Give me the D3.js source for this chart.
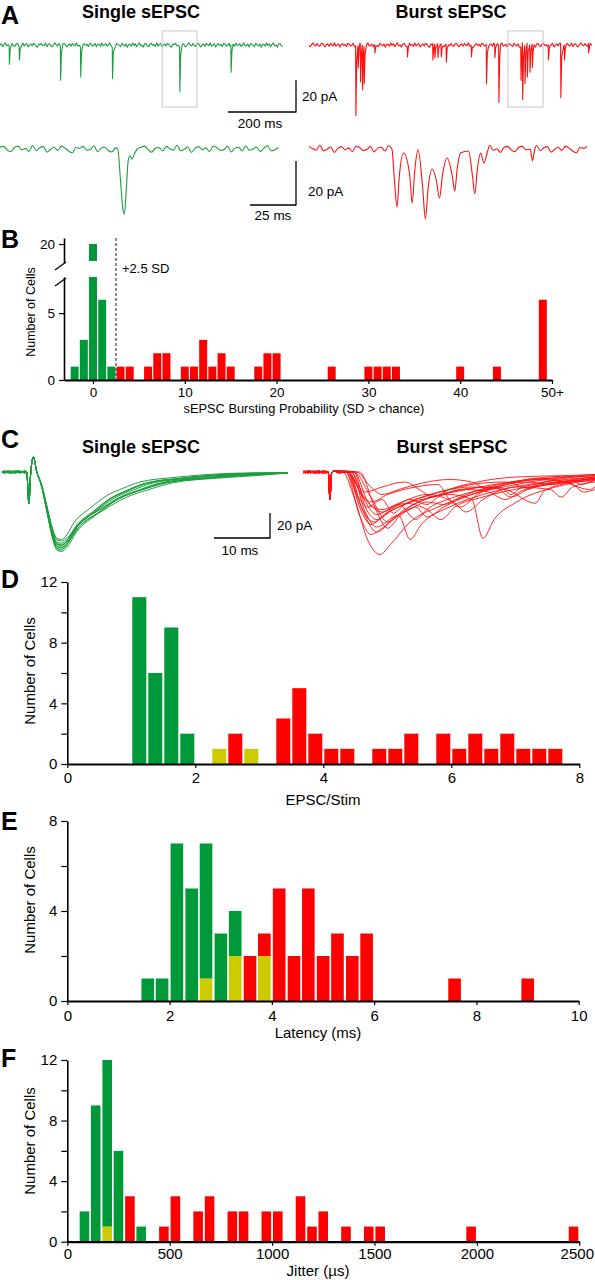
<!DOCTYPE html>
<html><head><meta charset="utf-8">
<script src="https://cdn.jsdelivr.net/npm/d3@7/dist/d3.min.js"></script>
<style>html,body{margin:0;padding:0;background:#fff;}svg{display:block;}</style>
</head><body>
<svg id="fig" width="595" height="1280" xmlns="http://www.w3.org/2000/svg"></svg>
<script>
// ====================== DATA ======================
// Panel A – recorded traces (time ms, current pA)
const baselineNoise = [0.4,-0.6,1.1,-0.2,0.7,-1.0,0.3,1.3,-0.5,0.1,-1.2,0.6,0.9,-0.4,-0.9,0.5,1.0,-0.3,0.2,-0.8,
  1.2,-0.6,0.4,0.8,-1.1,-0.1,0.6,-0.5,1.0,0.3,-0.7,-1.3,0.5,0.2,0.9,-0.4,-0.2,1.1,-0.9,0.3,
  0.7,-0.6,-1.0,0.4,1.2,0.0,-0.5,0.8,-0.3,-0.8,0.6,1.0,-0.2,-1.1,0.3,0.5,-0.7,0.9,0.1,-0.4,
  1.3,-0.6,-0.1,0.7,-1.2,0.2,0.8,-0.3,0.4,-0.9,1.0,0.5,-0.5,-0.2,0.9,-1.0,0.3,0.6,-0.7,1.1,
  -0.4,0.0,0.7,-0.8,0.2,1.2,-0.6,-0.3,0.5,-1.1,0.8,0.4,-0.2,-0.9,1.0,0.1,-0.5,0.6,-1.3,0.3];
const aSingleEvents = [[28,12],[58,9.4],[181,22],[241,20],[336,21],[537,29],[690,17]];
const aBurstEvents = [[140,44],[147,14],[154,23],[160,28],[165,24],[197,5],[294,7.5],[370,9.4],[376,8],[385,8],
  [395,7.5],[410,10.6],[485,7.5],[530,24],[555,8],[567,36],[633,22],[638,34],[645,24],[652,20],[660,17],[667,14],
  [715,9.4],[752,33],[763,9.4],[835,5]];
const aSingleZoom = [[65.2,0],[66.7,-14],[67.9,-26],[68.9,-29],[69.9,-18],[71,-5],[72,-3],[73,-4.5],[74.5,-2],[76,0]];
const aBurstZoom = [[45.9,0],[47.3,-14],[48.7,-25.8],[50,-12],[52.4,-1.8],[55.8,-12],[57.1,-24],[58.6,-9],[60.4,-0.4],
  [63,-18],[64.4,-31],[66,-17],[68.2,-8.9],[70.5,-14],[72.2,-21.8],[74,-11],[76.5,-4],[79.3,-12],[80.7,-18.7],[82,-9],
  [83.9,-1.8],[88.3,-0.9],[90.5,-12],[91.8,-20],[93.2,-9],[95,-1.8],[96.8,-6.2],[98.9,-0.9]];
const aBurstZoomSmall = [[122.5,0],[123.7,-5.3],[125,0]];

// Panel B – sEPSC bursting probability histogram
const bBinCenter = [-2,-1,0,1,2,3,4,6,7,8,10,11,12,13,14,15,18,19,20,26,30,31,32,33,40,44,49];
const bCount     = [ 1, 3,20,6,1,1,1,1,2,2, 1, 1, 3, 1, 2, 1, 1, 2, 2, 1, 1, 1, 1, 1, 1, 1, 6];
const bXTicks = [0,10,20,30,40,50];
const bXTickLabels = ["0","10","20","30","40","50+"];
const bThreshold = 2.5;

// Panel C – overlaid evoked sEPSCs (time ms, current pA)
const cSingleTemplate = [[4.4,0],[4.8,-25],[5.1,-2],[5.6,12],[6.2,0],[7,-10],[8,-30],[9,-50],[9.8,-59],[10.6,-60],
  [11.5,-57],[13.2,-45],[16.6,-32],[20,-21],[23.4,-14.4],[26.8,-9],[33.6,-5],[40.4,-2.4],[51,-0.8]];
const cSingleAmp = [1.0,0.95,1.04,0.92,0.98,1.06,0.9,1.01,0.97,1.03];
const cSingleDecay = [1.0,1.12,0.9,1.18,0.95,1.05,0.86,1.1,1.22,0.93];
const cBurstTraces = [
  [[7,0],[9,-20],[11.5,-55],[13.6,-66],[15.5,-58],[19,-40],[24,-28],[30,-18],[38,-10],[45,-5],[52,-3]],
  [[7.5,0],[10,-35],[12,-50],[14,-45],[17,-35],[19,-54],[21,-42],[26,-28],[32,-18],[40,-10],[52,-4]],
  [[8,0],[10,-25],[12.5,-40],[15,-32],[18,-25],[22,-30],[24.5,-38],[27,-28],[32,-20],[40,-12],[52,-5]],
  [[8,0],[10.5,-30],[13,-48],[16,-38],[20,-25],[26,-18],[30,-22],[32,-53],[34,-38],[38,-24],[45,-12],[52,-6]],
  [[9,0],[11,-28],[13,-38],[16,-30],[20,-22],[25,-15],[30,-12],[36,-14],[41.3,-25],[43,-15],[48,-8],[52,-5]],
  [[8.5,0],[11,-22],[14,-30],[17,-25],[22,-18],[27,-25],[29,-32],[32,-22],[38,-12],[44,-14],[46,-20],[48,-12],[52,-8]],
  [[7.5,0],[9.5,-18],[11.5,-28],[14,-22],[16,-33],[18,-26],[23,-18],[30,-10],[36,-8],[40,-13],[43,-8],[52,-3]],
  [[9,0],[12,-20],[15,-40],[18,-30],[23,-20],[28,-15],[34,-10],[42,-6],[48,-10],[50,-16],[52,-14]],
  [[8,0],[10,-15],[12,-24],[15,-18],[20,-12],[24,-10],[26,-22],[28,-28],[31,-18],[36,-10],[44,-5],[52,-2]],
  [[10,0],[12.5,-26],[15,-45],[17,-36],[20,-28],[22,-36],[25,-28],[30,-18],[35,-12],[37,-18],[39,-12],[45,-8],[52,-4]],
  [[7.5,0],[9.5,-10],[11,-16],[14,-12],[18,-8],[21,-15],[23,-20],[26,-14],[31,-8],[38,-4],[47,-3],[49.5,-10],[52,-6]],
  [[8.5,0],[11,-32],[13,-44],[16,-36],[19,-30],[22,-24],[25,-26],[28,-20],[33,-12],[40,-6],[52,-2]],
  [[9.5,0],[12,-12],[14,-18],[17,-14],[21,-9],[26,-6],[30,-8],[33,-14],[36,-10],[42,-5],[46,-7],[51,-14],[52,-12]],
  [[8,0],[10.5,-20],[13,-34],[16,-28],[19,-22],[22,-26],[24,-20],[28,-14],[34,-12],[37,-20],[40,-14],[46,-8],[52,-6]],
  [[9,0],[11.5,-24],[14,-32],[17,-26],[20,-38],[22,-30],[27,-20],[33,-13],[40,-8],[44,-10],[47,-8],[52,-5]],
  [[7.8,0],[10,-28],[12,-42],[14.5,-34],[18,-26],[23,-20],[29,-14],[33,-16],[36,-22],[39,-15],[46,-9],[52,-7]]
];
const cBurstArtifact = [[4.4,0],[4.7,-22],[5.0,-1],[5.5,1]];

// Panel D – EPSC/Stim histogram (bin width 0.25)
const dBinStart = [1.0,1.25,1.5,1.75,2.25,2.5,2.75,3.25,3.5,3.75,4.0,4.25,4.75,5.0,5.25,5.75,6.0,6.25,6.5,6.75,7.0,7.25,7.5];
const dGreen  = [11,6,9,2,0,0,0,0,0,0,0,0,0,0,0,0,0,0,0,0,0,0,0];
const dYellow = [0,0,0,0,1,0,1,0,0,0,0,0,0,0,0,0,0,0,0,0,0,0,0];
const dRed    = [0,0,0,0,0,2,0,3,5,2,1,1,1,1,2,2,1,2,1,2,1,1,1];
const dBinWidth = 0.25;

// Panel E – latency histogram (ms)
const eBinStart = [1.43,1.71,2.0,2.29,2.57,2.86,3.14,3.43,3.71,4.0,4.29,4.57,4.86,5.14,5.43,5.71,7.43,8.86];
const eYellow = [0,0,0,0,1,0,2,0,2,0,0,0,0,0,0,0,0,0];
const eGreen  = [1,1,7,5,6,3,2,0,0,0,0,0,0,0,0,0,0,0];
const eRed    = [0,0,0,0,0,0,0,2,1,5,2,5,2,3,2,3,1,1];
const eBinWidth = 0.286;

// Panel F – jitter histogram (µs)
const fBinStart = [56,111,167,222,278,333,444,500,611,667,778,833,944,1000,1111,1167,1222,1333,1444,1500,1944,2444];
const fYellow = [0,0,1,0,0,0,0,0,0,0,0,0,0,0,0,0,0,0,0,0,0,0];
const fGreen  = [2,9,11,6,0,1,0,0,0,0,0,0,0,0,0,0,0,0,0,0,0,0];
const fRed    = [0,0,0,0,3,0,1,3,2,3,2,2,2,2,3,1,2,1,1,1,1,1];
const fBinWidth = 55.6;

// ====================== STYLE ======================
const FONT = '"Liberation Sans", Arial, Helvetica, sans-serif';
const C_GREEN = '#00993a', C_RED = '#ff0000', C_YELLOW = '#cccc00';
const T_GREEN = '#1c9e3e', T_RED = '#ff1010';
const fmt = d3.format('d');

const svg = d3.select('#fig');

function txt(x, y, s, size, opts = {}) {
  const t = svg.append('text').attr('x', x).attr('y', y).text(s)
    .attr('font-family', FONT).attr('font-size', size).attr('fill', '#000')
    .attr('text-anchor', opts.anchor || 'start')
    .attr('font-weight', opts.bold ? 'bold' : 'normal');
  if (opts.rotate) t.attr('transform', `rotate(-90,${x},${y})`);
  return t;
}
function line(x1, y1, x2, y2, w = 1.2, col = '#000') {
  svg.append('line').attr('x1', x1).attr('y1', y1).attr('x2', x2).attr('y2', y2)
    .attr('stroke', col).attr('stroke-width', w);
}
function styleAxis(g, size, w) {
  g.attr('font-family', FONT).attr('font-size', size);
  g.select('.domain').attr('stroke', '#000').attr('stroke-width', w);
  g.selectAll('.tick line').attr('stroke', '#000').attr('stroke-width', 1.2);
  g.selectAll('.tick text').attr('fill', '#000');
}
function histogram(x, y, starts, width, layers, gap) {
  const g = svg.append('g');
  starts.forEach((s, i) => {
    let acc = 0;
    layers.forEach(L => {
      const v = L.vals[i]; if (!v) return;
      g.append('rect').attr('x', x(s) + gap / 2).attr('width', x(s + width) - x(s) - gap)
        .attr('y', y(acc + v)).attr('height', y(acc) - y(acc + v)).attr('fill', L.color);
      acc += v;
    });
  });
}

// Panel letters
[['A', 24], ['B', 248], ['C', 448], ['D', 588], ['E', 830], ['F', 1067]].forEach(([l, y]) => txt(1, y, l, 25, {bold: true}));

// ====================== PANEL A ======================
txt(141, 18, 'Single sEPSC', 18, {bold: true, anchor: 'middle'});
txt(451, 18, 'Burst sEPSC', 18, {bold: true, anchor: 'middle'});

const xAs = d3.scaleLinear([0, 845], [0, 283]);
const xAb = d3.scaleLinear([0, 845], [309, 592]);
const yAt = d3.scaleLinear([0, -20], [45, 77]);

function spikeTrace(events, tEnd, step, nScale, off) {
  const pts = [];
  const near = t => events.some(([te]) => t > te - 1.5 && t < te + 5);
  for (let i = 0; i * step <= tEnd; i++) {
    const t = i * step;
    if (!near(t)) pts.push([t, baselineNoise[(i + off) % baselineNoise.length] * nScale]);
  }
  events.forEach(([te, a], k) => {
    const b = baselineNoise[(k * 7 + off) % baselineNoise.length] * nScale;
    pts.push([te - 0.8, b], [te, -a], [te + 2.5, -0.22 * a]);
  });
  return pts.sort((p, q) => p[0] - q[0]);
}
function mergeTrace(segments, tEnd, step, nScale, off) {
  const pts = [];
  for (let i = 0; i * step <= tEnd; i++) {
    const t = i * step;
    if (!segments.some(s => t >= s[0][0] - 0.8 && t <= s[s.length - 1][0] + 0.8))
      pts.push([t, baselineNoise[(i + off) % baselineNoise.length] * nScale]);
  }
  segments.forEach(s => pts.push(...s));
  return pts.sort((p, q) => p[0] - q[0]);
}
function drawTrace(pts, xs, ys, col, w, curve) {
  svg.append('path').attr('d', d3.line().x(d => xs(d[0])).y(d => ys(d[1])).curve(curve || d3.curveLinear)(pts))
    .attr('fill', 'none').attr('stroke', col).attr('stroke-width', w).attr('stroke-linejoin', 'round');
}
drawTrace(spikeTrace(aSingleEvents, 845, 4, 1.1, 3), xAs, yAt, T_GREEN, 1.1);
drawTrace(spikeTrace(aBurstEvents, 845, 4, 1.1, 41), xAb, yAt, T_RED, 1.1);

// highlight boxes
[[xAs, 484, 588], [xAb, 594, 699]].forEach(([xs, t0, t1]) => {
  svg.append('rect').attr('x', xs(t0)).attr('y', yAt(8.8)).attr('width', xs(t1) - xs(t0))
    .attr('height', yAt(-38.8) - yAt(8.8)).attr('fill', 'none').attr('stroke', '#c8c8c8').attr('stroke-width', 1);
});
// scale bars (200 ms, 20 pA)
line(228, 112, 296, 112, 1.3);
line(296, 80, 296, 112.6, 1.3);
txt(260, 128, '200 ms', 13.5, {anchor: 'middle'});
txt(302, 101, '20 pA', 13.5);

// zoomed traces
const xLs = d3.scaleLinear([0, 155], [0, 280]);
const xLb = d3.scaleLinear([0, 155], [309, 589]);
const yL = d3.scaleLinear([0, -20], [149, 194]);
drawTrace(mergeTrace([aSingleZoom], 155, 2, 1.3, 11), xLs, yL, T_GREEN, 1.1, d3.curveMonotoneX);
drawTrace(mergeTrace([aBurstZoom, aBurstZoomSmall], 155, 2, 1.3, 57), xLb, yL, T_RED, 1.1, d3.curveMonotoneX);
line(250, 205, 296, 205, 1.3);
line(296, 161, 296, 205.6, 1.3);
txt(273, 220, '25 ms', 13.5, {anchor: 'middle'});
txt(308, 196, '20 pA', 13.5);

// ====================== PANEL B ======================
const xB = d3.scaleLinear([-3.16, 50], [64, 552]);
const yBlow = d3.scaleLinear([0, 7.7], [380, 277]);
const yBhigh = d3.scaleLinear([18.58, 20.45], [263, 238]);
bBinCenter.forEach((c, i) => {
  const col = c < bThreshold ? C_GREEN : C_RED;
  const v = bCount[i];
  const x0 = xB(c - 0.5) + 0.6, w = xB(c + 0.5) - xB(c - 0.5) - 1.2;
  if (v <= 7.7) {
    svg.append('rect').attr('x', x0).attr('width', w).attr('y', yBlow(v)).attr('height', yBlow(0) - yBlow(v)).attr('fill', col);
  } else {
    svg.append('rect').attr('x', x0).attr('width', w).attr('y', yBlow(7.7)).attr('height', yBlow(0) - yBlow(7.7)).attr('fill', col);
    svg.append('rect').attr('x', x0).attr('width', w).attr('y', yBhigh(v)).attr('height', yBhigh(18.73) - yBhigh(v)).attr('fill', col);
  }
});
// threshold line
svg.append('line').attr('x1', xB(bThreshold)).attr('x2', xB(bThreshold)).attr('y1', 238).attr('y2', 380)
  .attr('stroke', '#333').attr('stroke-width', 1.1).attr('stroke-dasharray', '3,2');
txt(122, 273, '+2.5 SD', 13);
const gBx = svg.append('g').attr('transform', 'translate(0,380)')
  .call(d3.axisBottom(xB).tickValues(bXTicks).tickFormat((d, i) => bXTickLabels[i]).tickSize(4).tickSizeOuter(0).tickPadding(3));
styleAxis(gBx, 13.5, 2);
const gBy1 = svg.append('g').attr('transform', 'translate(64,0)')
  .call(d3.axisLeft(yBlow).tickValues([0, 5]).tickFormat(fmt).tickSize(5).tickSizeOuter(0).tickPadding(4));
styleAxis(gBy1, 13.5, 1.6);
const gBy2 = svg.append('g').attr('transform', 'translate(64,0)')
  .call(d3.axisLeft(yBhigh).tickValues([20]).tickFormat(fmt).tickSize(5).tickSizeOuter(0).tickPadding(4));
styleAxis(gBy2, 13.5, 1.6);
line(55, 270, 66, 262, 1.3);
line(55, 286, 66, 278, 1.3);
txt(35, 312, 'Number of Cells', 12.5, {anchor: 'middle', rotate: true});
txt(304, 413, 'sEPSC Bursting Probability (SD > chance)', 12.8, {anchor: 'middle'});

// ====================== PANEL C ======================
txt(141, 453, 'Single sEPSC', 18, {bold: true, anchor: 'middle'});
txt(452, 453, 'Burst sEPSC', 18, {bold: true, anchor: 'middle'});
const xCs = d3.scaleLinear([0, 51], [2, 288]);
const xCb = d3.scaleLinear([0, 52], [303.6, 595]);
const yC = d3.scaleLinear([0, -20], [472, 497]);
cSingleAmp.forEach((a, k) => {
  const s = cSingleDecay[k];
  const pts = [];
  for (let i = 0; i < 11; i++) pts.push([i * 0.4, baselineNoise[(i + k * 9) % baselineNoise.length] * 0.9]);
  let last = null;
  cSingleTemplate.forEach(([t, v]) => {
    if (t < 6.2) { pts.push([t, v]); return; }
    const tt = t <= 10.6 ? t : 10.6 + (t - 10.6) * s;
    if (tt <= 51) pts.push([tt, v * a]); else if (last === null) last = v * a;
  });
  if (pts[pts.length - 1][0] < 51) pts.push([51, last !== null ? last : -0.8]);
  drawTrace(pts, xCs, yC, T_GREEN, 1, d3.curveMonotoneX);
});
cBurstTraces.forEach((tr, k) => {
  const pts = [];
  for (let i = 0; i < 11; i++) pts.push([i * 0.4, baselineNoise[(i + k * 13 + 5) % baselineNoise.length] * 0.9]);
  pts.push(...cBurstArtifact);
  pts.push([6.2, baselineNoise[(k * 5) % baselineNoise.length] * 0.8]);
  pts.push(...tr);
  drawTrace(pts, xCb, yC, T_RED, 0.9, d3.curveMonotoneX);
});
line(214, 538, 270, 538, 1.3);
line(270, 513, 270, 538.6, 1.3);
txt(277, 530, '20 pA', 13.5);
txt(240, 555, '10 ms', 13.5, {anchor: 'middle'});

// ====================== PANEL D ======================
const xD = d3.scaleLinear([0, 8], [67.3, 579.3]);
const yD = d3.scaleLinear([0, 12], [764, 582]);
histogram(xD, yD, dBinStart, dBinWidth,
  [{vals: dYellow, color: C_YELLOW}, {vals: dGreen, color: C_GREEN}, {vals: dRed, color: C_RED}], 2);
const gDx = svg.append('g').attr('transform', 'translate(0,764)')
  .call(d3.axisBottom(xD).tickValues([0, 2, 4, 6, 8]).tickFormat(fmt).tickSize(4).tickSizeOuter(0).tickPadding(4));
styleAxis(gDx, 15, 2.2);
const gDy = svg.append('g').attr('transform', 'translate(67.3,0)')
  .call(d3.axisLeft(yD).tickValues([0, 2, 4, 6, 8, 10, 12]).tickFormat(d => d % 4 === 0 ? fmt(d) : '').tickSize(6).tickSizeOuter(0).tickPadding(4));
styleAxis(gDy, 15, 1.6);
txt(35, 671, 'Number of Cells', 15, {anchor: 'middle', rotate: true});
txt(323, 805, 'EPSC/Stim', 15, {anchor: 'middle'});

// ====================== PANEL E ======================
const xE = d3.scaleLinear([0, 10], [67.3, 578.7]);
const yE = d3.scaleLinear([0, 8], [1001, 821]);
histogram(xE, yE, eBinStart, eBinWidth,
  [{vals: eYellow, color: C_YELLOW}, {vals: eGreen, color: C_GREEN}, {vals: eRed, color: C_RED}], 2);
const gEx = svg.append('g').attr('transform', 'translate(0,1001)')
  .call(d3.axisBottom(xE).tickValues([0, 2, 4, 6, 8, 10]).tickFormat(fmt).tickSize(4).tickSizeOuter(0).tickPadding(5));
styleAxis(gEx, 15, 2.2);
const gEy = svg.append('g').attr('transform', 'translate(67.3,0)')
  .call(d3.axisLeft(yE).tickValues([0, 2, 4, 6, 8]).tickFormat(d => d % 4 === 0 ? fmt(d) : '').tickSize(6).tickSizeOuter(0).tickPadding(4));
styleAxis(gEy, 15, 1.6);
txt(35, 900, 'Number of Cells', 15, {anchor: 'middle', rotate: true});
txt(318, 1038, 'Latency (ms)', 15, {anchor: 'middle'});

// ====================== PANEL F ======================
const xF = d3.scaleLinear([0, 2500], [67.3, 579.3]);
const yF = d3.scaleLinear([0, 12], [1241.7, 1060]);
histogram(xF, yF, fBinStart, fBinWidth,
  [{vals: fYellow, color: C_YELLOW}, {vals: fGreen, color: C_GREEN}, {vals: fRed, color: C_RED}], 1.8);
const gFx = svg.append('g').attr('transform', 'translate(0,1241.7)')
  .call(d3.axisBottom(xF).tickValues([0, 500, 1000, 1500, 2000, 2500]).tickFormat(fmt).tickSize(4).tickSizeOuter(0).tickPadding(3));
styleAxis(gFx, 15, 2.2);
gFx.selectAll('.tick text').filter(d => d === 2500).attr('dx', -2.5);
const gFy = svg.append('g').attr('transform', 'translate(67.3,0)')
  .call(d3.axisLeft(yF).tickValues([0, 2, 4, 6, 8, 10, 12]).tickFormat(d => d % 4 === 0 ? fmt(d) : '').tickSize(6).tickSizeOuter(0).tickPadding(4));
styleAxis(gFy, 15, 1.6);
txt(35, 1141, 'Number of Cells', 15, {anchor: 'middle', rotate: true});
txt(318, 1276, 'Jitter (µs)', 15, {anchor: 'middle'});
</script>
</body></html>
